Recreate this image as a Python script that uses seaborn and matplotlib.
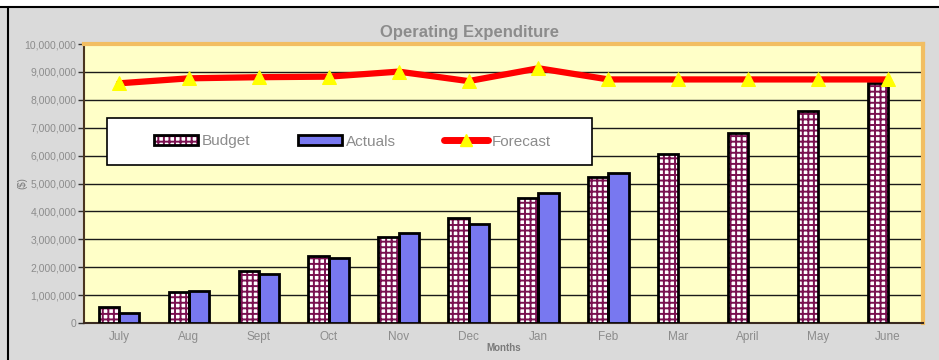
import numpy as np
import pandas as pd
import matplotlib
matplotlib.use("Agg")
import matplotlib.pyplot as plt
import seaborn as sns
from matplotlib.patches import Patch, Rectangle
from matplotlib.lines import Line2D
from matplotlib.legend_handler import HandlerTuple
from matplotlib.ticker import FuncFormatter, MultipleLocator

months = ["July", "Aug", "Sept", "Oct", "Nov", "Dec", "Jan", "Feb", "Mar", "April", "May", "June"]
budget = [570000, 1120000, 1860000, 2400000, 3090000, 3770000, 4470000, 5220000,
          6050000, 6800000, 7600000, 8610000]
actuals = [370000, 1150000, 1760000, 2330000, 3210000, 3540000, 4650000, 5370000,
           np.nan, np.nan, np.nan, np.nan]
forecast = [8590000, 8770000, 8810000, 8830000, 9010000, 8670000, 9130000, 8730000,
            8730000, 8730000, 8730000, 8730000]
series_names = ["Budget", "Actuals", "Forecast"]

W, H = 939, 360
sns.set_theme(style="white")
plt.rcParams["font.family"] = ["Liberation Sans", "DejaVu Sans"]
plt.rcParams["hatch.linewidth"] = 1.4

fig = plt.figure(figsize=(W / 100, H / 100), dpi=100, facecolor="#dadada")

# page remnants: white strip at top, black frame lines
fig.patches.append(Rectangle((0, 1 - 7 / H), 1, 7 / H, transform=fig.transFigure,
                             facecolor="white", edgecolor="none", zorder=0))
fig.add_artist(Line2D([0, 1], [1 - 7 / H, 1 - 7 / H], transform=fig.transFigure,
                      color="black", lw=1.5))
fig.add_artist(Line2D([8 / W, 8 / W], [0, 1 - 7 / H], transform=fig.transFigure,
                      color="black", lw=1.5))

L, R, T, B = 84, 923, 44, 323
ax = fig.add_axes([L / W, 1 - B / H, (R - L) / W, (B - T) / H])
ax.set_facecolor("#FFFFC8")

df = pd.DataFrame({
    "Month": months * 2,
    "Series": ["Budget"] * 12 + ["Actuals"] * 12,
    "Value": budget + actuals,
})
sns.barplot(data=df, x="Month", y="Value", hue="Series", order=months,
            hue_order=["Budget", "Actuals"],
            palette={"Budget": "white", "Actuals": "#7878F0"},
            width=0.58, gap=0, saturation=1, edgecolor="black", linewidth=2,
            errorbar=None, legend=False, ax=ax, zorder=3)

HATCH = "+++"
HCOL = "#7a1050"
# hatch budget bars in purple, with black outline on top
for bar in ax.containers[0]:
    bar.set_hatch(HATCH)
    bar.set_edgecolor(HCOL)
    bar.set_linewidth(0)
    ax.add_patch(Rectangle(bar.get_xy(), bar.get_width(), bar.get_height(),
                           fill=False, edgecolor="black", lw=2, zorder=3.5))

sns.lineplot(x=np.arange(len(months)), y=forecast, color="#FF0000", lw=4.5,
             marker="^", markersize=10, markerfacecolor="#FFFF00",
             markeredgecolor="#FFFF00", ax=ax, zorder=5)

ax.set_xlim(-0.5, 11.5)
ax.set_ylim(0, 10_000_000)
ax.yaxis.set_major_locator(MultipleLocator(1_000_000))
ax.yaxis.set_major_formatter(FuncFormatter(lambda v, p: f"{v:,.0f}"))
ax.set_axisbelow(True)
ax.yaxis.grid(True, color="#1a1a1a", lw=1)
ax.xaxis.grid(False)

ax.set_xticks(range(len(months)))
ax.set_xticklabels(months)
ax.set_xticks(np.arange(-0.5, 12, 1), minor=True)
ax.tick_params(axis="x", which="major", length=0, pad=6, labelsize=8.5, labelcolor="#8c8c8c")
ax.tick_params(axis="x", which="minor", length=4, width=1, color="#333333", direction="out")
ax.tick_params(axis="y", length=4, width=1, color="#333333", labelsize=7.5,
               labelcolor="#8c8c8c", pad=1.5, direction="out", left=True)
ax.set_xlabel("")
ax.set_ylabel("")

for s in ["top", "right"]:
    ax.spines[s].set_color("#F2BE62")
    ax.spines[s].set_linewidth(3)
ax.spines["left"].set_color("#4a3520")
ax.spines["left"].set_linewidth(1.5)
ax.spines["bottom"].set_color("#3a2a20")
ax.spines["bottom"].set_linewidth(1.5)

# legend
lx0, lx1, ly0, ly1 = 107, 592, 118, 165
ax.add_patch(Rectangle(((lx0 - L) / (R - L), (B - ly1) / (B - T)),
                       (lx1 - lx0) / (R - L), (ly1 - ly0) / (B - T),
                       transform=ax.transAxes, facecolor="white", edgecolor="black",
                       lw=1.2, zorder=6))
budget_h = (Patch(facecolor="white", edgecolor=HCOL, hatch=HATCH, lw=0),
            Patch(fill=False, edgecolor="black", lw=2))
actual_h = Patch(facecolor="#7878F0", edgecolor="black", lw=2)
fc_h = Line2D([], [], color="#FF0000", lw=5, marker="^", markersize=9,
              markerfacecolor="#FFFF00", markeredgecolor="#FFFF00")
cx0, cx1 = 154, 551
leg = ax.legend([budget_h, actual_h, fc_h], series_names,
                handler_map={tuple: HandlerTuple(ndivide=1, pad=0)},
                ncol=3, mode="expand", loc="center",
                bbox_to_anchor=((cx0 - L) / (R - L), (B - ly1) / (B - T),
                                (cx1 - cx0) / (R - L), (ly1 - ly0) / (B - T)),
                bbox_transform=ax.transAxes, frameon=False, fontsize=11,
                handlelength=2.9, handleheight=0.6, handletextpad=0.25,
                borderpad=0, borderaxespad=0, numpoints=1)
leg.set_zorder(7)
for t in leg.get_texts():
    t.set_color("#8c8c8c")

fig.text(469 / W, 1 - 33 / H, "Operating Expenditure", ha="center", va="center",
         fontsize=12, fontweight="bold", color="#8c8c8c")
fig.text(504 / W, 1 - 348 / H, "Months", ha="center", va="center",
         fontsize=7, fontweight="bold", color="#7a7a7a")
fig.text(22 / W, 1 - 183 / H, "($)", ha="center", va="center", rotation=90,
         fontsize=7, color="#7a7a7a")

fig.savefig("out.png", dpi=100, facecolor=fig.get_facecolor())
